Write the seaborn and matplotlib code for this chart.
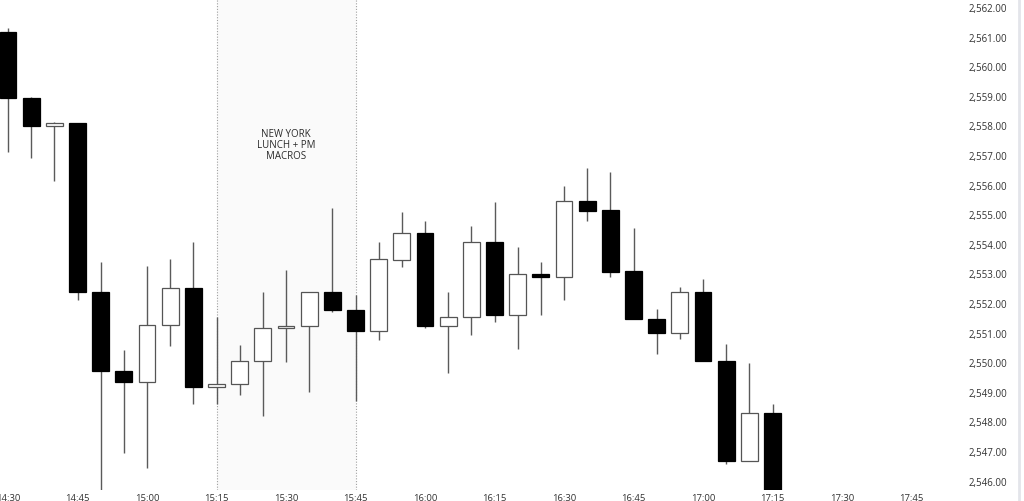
import matplotlib
matplotlib.use("Agg")
import matplotlib.pyplot as plt
import seaborn as sns
import numpy as np
import pandas as pd
from matplotlib.lines import Line2D
from matplotlib.ticker import FuncFormatter

# ---- data (5-minute candles) ----
times = ["14:30", "14:35", "14:40", "14:45", "14:50", "14:55", "15:00", "15:05",
         "15:10", "15:15", "15:20", "15:25", "15:30", "15:35", "15:40", "15:45",
         "15:50", "15:55", "16:00", "16:05", "16:10", "16:15", "16:20", "16:25",
         "16:30", "16:35", "16:40", "16:45", "16:50", "16:55", "17:00", "17:05",
         "17:10", "17:15"]
opens = [2561.15, 2558.93, 2557.99, 2558.07, 2552.38, 2549.69, 2549.33, 2551.26,
         2552.50, 2549.15, 2549.26, 2550.05, 2551.16, 2551.21, 2552.36, 2551.76,
         2551.06, 2553.46, 2554.35, 2551.23, 2551.52, 2554.07, 2551.59, 2552.97,
         2552.87, 2555.43, 2555.13, 2553.07, 2551.45, 2550.99, 2552.36, 2550.05,
         2546.67, 2548.27]
highs = [2561.29, 2558.95, 2558.12, 2558.08, 2553.40, 2550.41, 2553.26, 2553.49,
         2554.06, 2551.52, 2550.58, 2552.36, 2553.11, 2552.37, 2555.22, 2552.27,
         2554.05, 2555.08, 2554.76, 2552.36, 2554.59, 2555.42, 2553.90, 2553.37,
         2555.96, 2556.56, 2556.41, 2554.52, 2551.79, 2552.53, 2552.81, 2550.61,
         2549.96, 2548.59]
lows = [2557.11, 2556.90, 2556.13, 2552.11, 2545.69, 2546.92, 2546.41, 2550.54,
        2548.57, 2548.57, 2548.89, 2548.19, 2550.00, 2549.00, 2551.69, 2548.70,
        2550.76, 2553.21, 2551.16, 2549.64, 2550.92, 2551.35, 2550.45, 2551.59,
        2552.11, 2554.78, 2552.89, 2551.45, 2550.28, 2550.78, 2550.05, 2546.56,
        2546.67, 2545.20]
closes = [2558.92, 2557.99, 2558.07, 2552.36, 2549.69, 2549.33, 2551.26, 2552.50,
          2549.15, 2549.26, 2550.05, 2551.17, 2551.21, 2552.36, 2551.76, 2551.06,
          2553.49, 2554.35, 2551.21, 2551.52, 2554.07, 2551.59, 2552.98, 2552.87,
          2555.43, 2555.12, 2553.06, 2551.45, 2550.99, 2552.36, 2550.05, 2546.67,
          2548.27, 2545.40]

tick_labels = ["14:30", "14:45", "15:00", "15:15", "15:30", "15:45", "16:00",
               "16:15", "16:30", "16:45", "17:00", "17:15", "17:30", "17:45"]
price_ticks = list(range(2546, 2563))
session_start, session_end = "15:15", "15:45"
session_label = "NEW YORK\nLUNCH + PM\nMACROS"


def to_min(s):
    h, m = s.split(":")
    return (int(h) - 14) * 60 + int(m) - 30


df = pd.DataFrame({"t": [to_min(t) for t in times], "open": opens,
                   "high": highs, "low": lows, "close": closes})
df["bear"] = df["close"] < df["open"]

sns.set_theme(style="white")
plt.rcParams["font.family"] = ["Open Sans", "DejaVu Sans"]

fig = plt.figure(figsize=(10.24, 5.02), dpi=100)
ax = fig.add_axes([0.0, 11 / 502, 955 / 1024, 491 / 502])
ax.set_facecolor("white")

# session shading
x0, x1 = to_min(session_start), to_min(session_end)
ax.axvspan(x0, x1, color="#fafafa", zorder=0, lw=0)
for xv in (x0, x1):
    ax.axvline(xv, color="#a0a0a0", lw=0.8, ls=(0, (1, 1.5)), zorder=1)
ax.text((x0 + x1) / 2, 2557.35, session_label, ha="center", va="center",
        fontsize=7, color="#2a2a2a", linespacing=1.0, zorder=4)

# wicks
ax.vlines(df["t"], df["low"], df["high"], color="#5a5a5a", lw=1.0, zorder=2)

# bodies
body_bottom = np.minimum(df["open"], df["close"])
body_height = np.maximum(np.abs(df["close"] - df["open"]), 0.03)
face = np.where(df["bear"], "black", "white")
edge = np.where(df["bear"], "black", "#555555")
ax.bar(df["t"], body_height, bottom=body_bottom, width=3.6, color=face,
       edgecolor=edge, linewidth=0.9, zorder=3)

# axes limits
px_per_min = 69.5 / 15.0
ax.set_xlim(-8 / px_per_min, (955 - 8) / px_per_min)
ax.set_ylim(2545.68, 2562.27)

ax.set_xticks([to_min(t) for t in tick_labels])
ax.set_xticklabels(tick_labels)
ax.set_yticks(price_ticks)
ax.yaxis.set_major_formatter(FuncFormatter(lambda v, p: f"{v:,.2f}"))
ax.yaxis.tick_right()
ax.tick_params(axis="y", length=0, pad=9.5, labelsize=7, colors="#333333")
ax.tick_params(axis="x", length=0, pad=2, labelsize=6.8, colors="#333333")
ax.grid(False)
for s in ax.spines.values():
    s.set_visible(False)

# right border of price scale
fig.add_artist(Line2D([1019 / 1024, 1019 / 1024], [0, 1], color="#e3e5ea",
                      lw=2, transform=fig.transFigure))

fig.savefig("out.png", dpi=100, facecolor="white")
